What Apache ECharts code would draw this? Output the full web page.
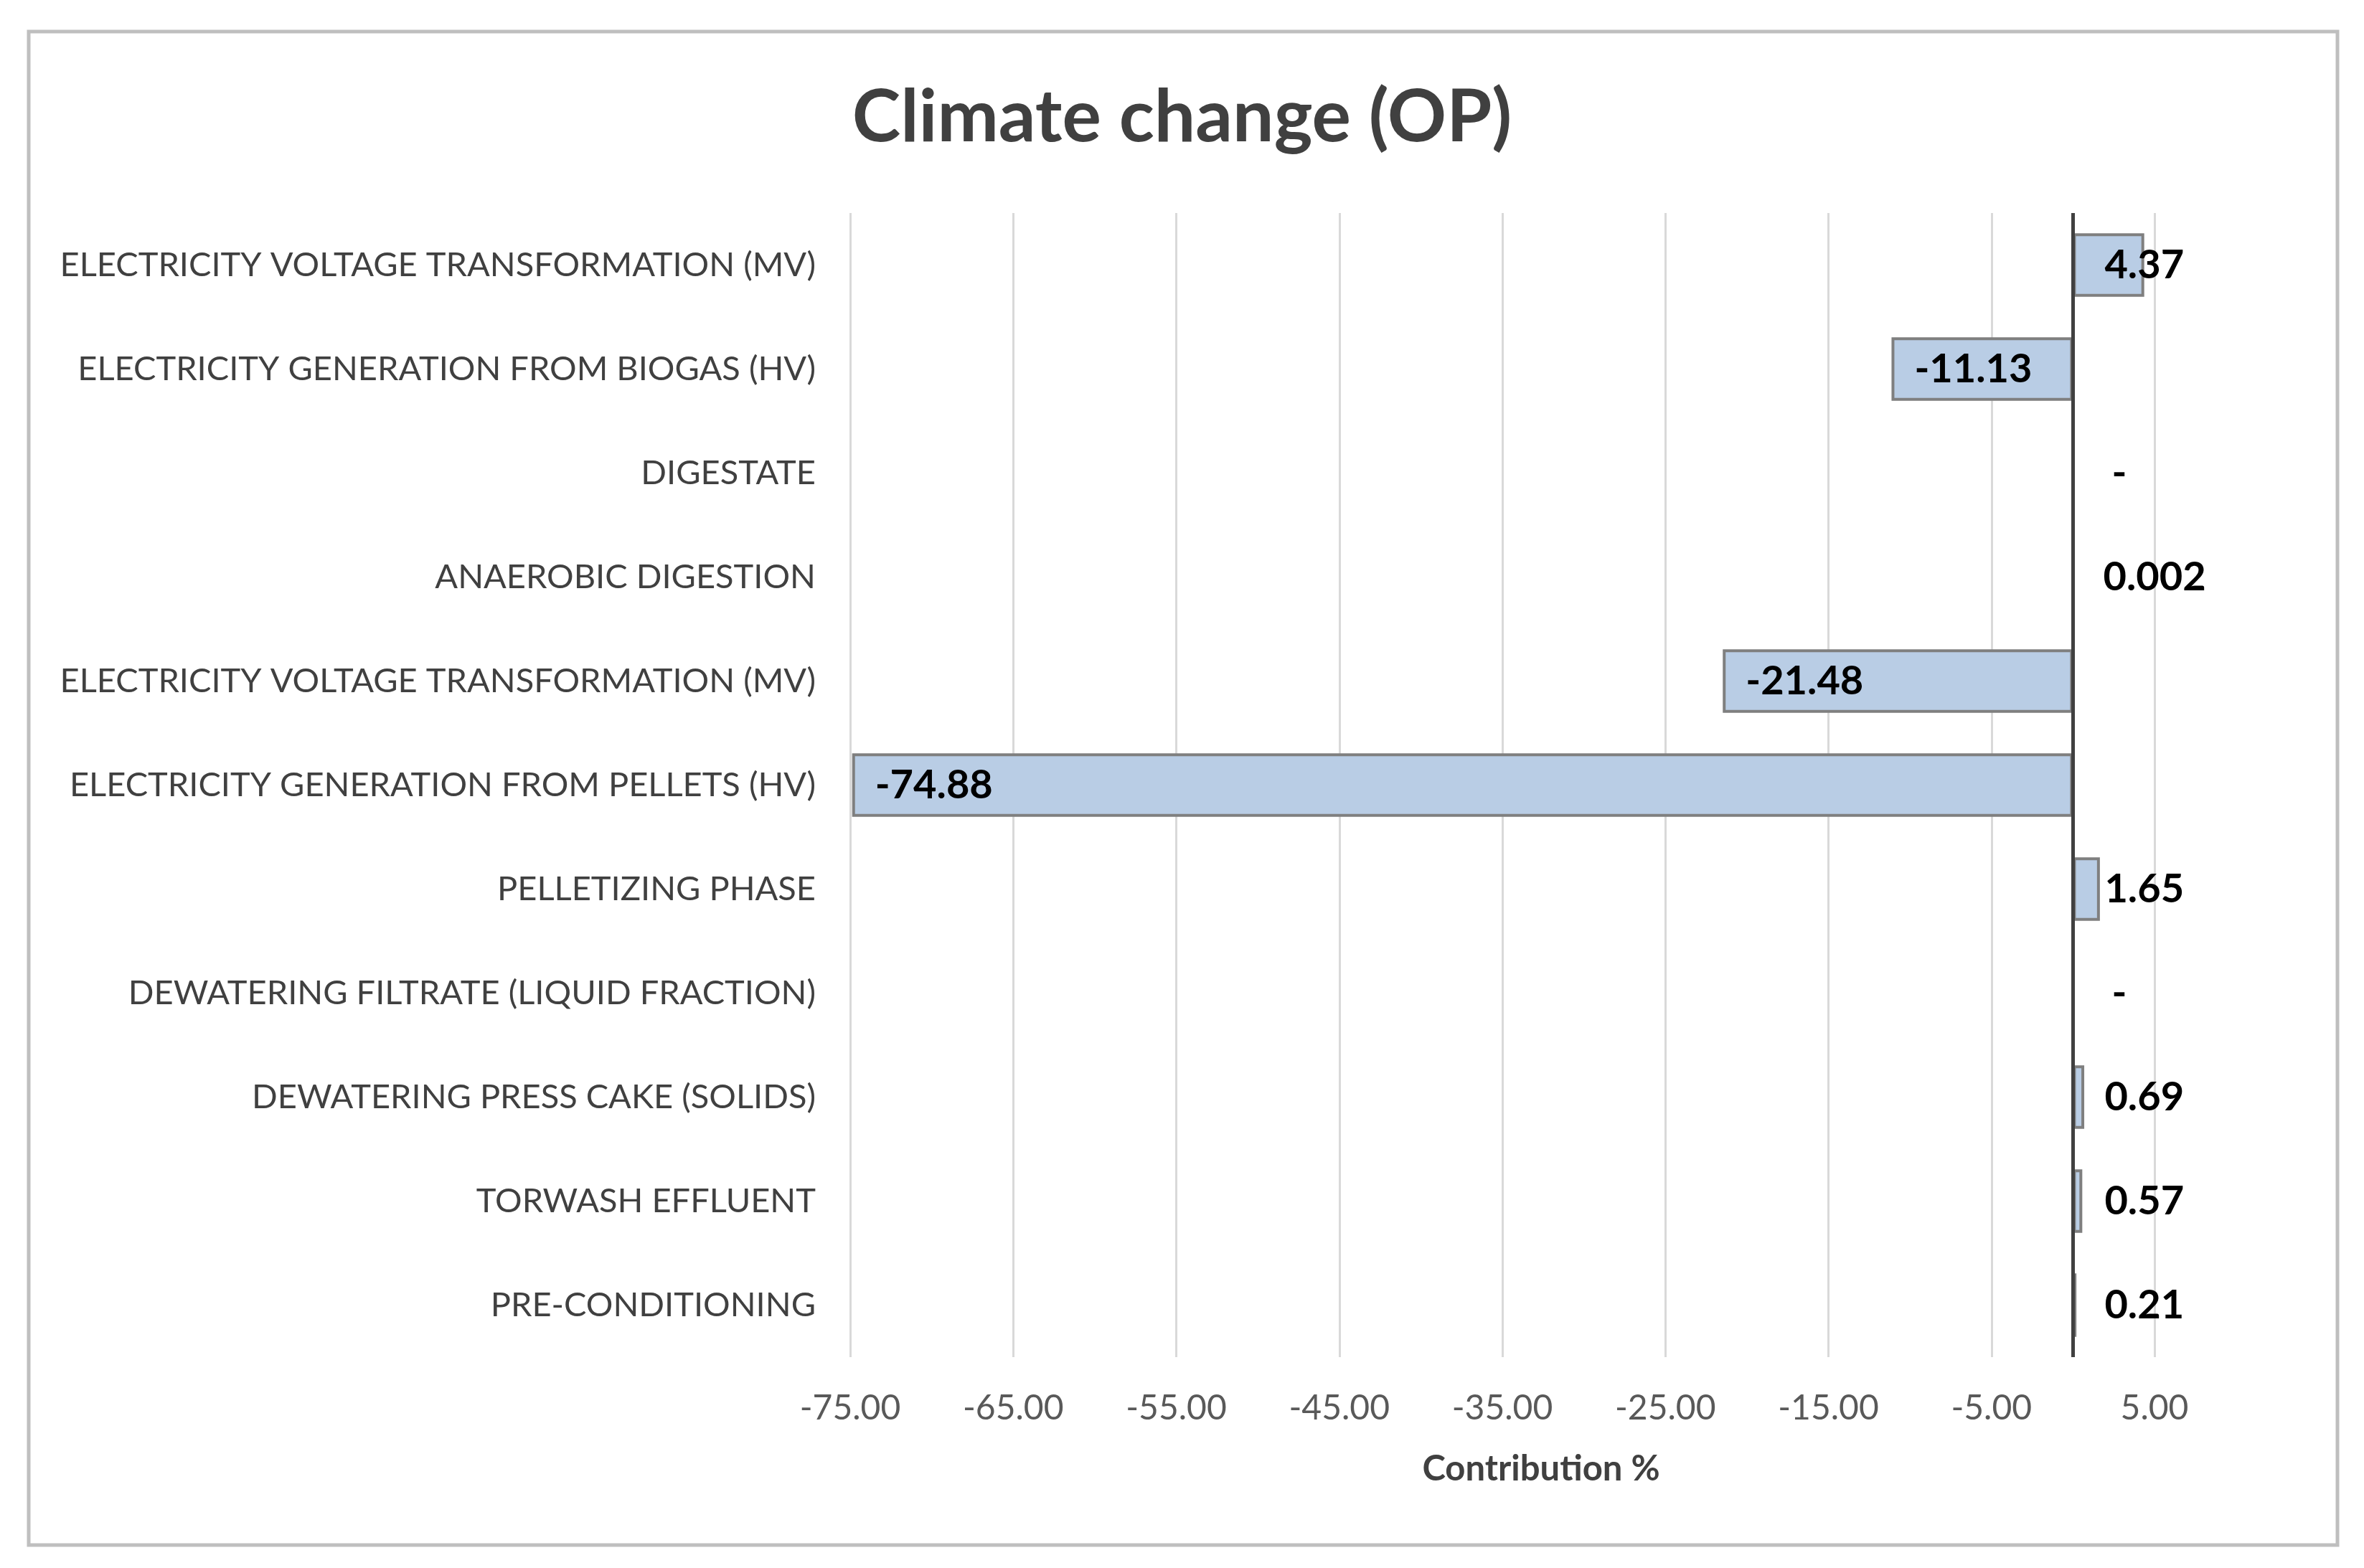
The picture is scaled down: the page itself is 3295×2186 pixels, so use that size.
<!DOCTYPE html>
<html>
<head>
<meta charset="utf-8">
<script src="https://cdn.jsdelivr.net/npm/echarts@6/dist/echarts.min.js"></script>
<style>
html,body{margin:0;padding:0;background:#fff;}
#chart{width:3295px;height:2186px;}
</style>
</head>
<body>
<div id="chart"></div>
<script>
const titleText = 'Climate change (OP)';
const categories = [
  'ELECTRICITY VOLTAGE TRANSFORMATION (MV)',
  'ELECTRICITY GENERATION FROM BIOGAS (HV)',
  'DIGESTATE',
  'ANAEROBIC DIGESTION',
  'ELECTRICITY VOLTAGE TRANSFORMATION (MV)',
  'ELECTRICITY GENERATION FROM PELLETS (HV)',
  'PELLETIZING PHASE',
  'DEWATERING FILTRATE (LIQUID FRACTION)',
  'DEWATERING PRESS CAKE (SOLIDS)',
  'TORWASH EFFLUENT',
  'PRE-CONDITIONING'
];
const values = [4.37, -11.13, 0, 0.002, -21.48, -74.88, 1.65, 0, 0.69, 0.57, 0.21];
const axisName = 'Contribution %';
const xMin = -75, xMax = 5, xStep = 10;

const chart = echarts.init(document.getElementById('chart'), null, {renderer: 'canvas'});
const option = {
  backgroundColor: '#ffffff',
  animation: false,
  title: {
    text: titleText,
    left: 'center',
    top: 108,
    textStyle: {fontFamily: 'Lato', fontWeight: 'bold', fontSize: 102, color: '#404040'}
  },
  graphic: [{
    type: 'rect',
    shape: {x: 40, y: 44, width: 3218, height: 2110},
    style: {fill: 'none', stroke: '#bfbfbf', lineWidth: 5},
    silent: true,
    z: -1
  }],
  grid: {left: 1185, right: 292, top: 297, bottom: 294, containLabel: false},
  xAxis: {
    type: 'value',
    min: xMin,
    max: xMax,
    interval: xStep,
    name: axisName,
    nameLocation: 'middle',
    nameGap: 132,
    nameTextStyle: {fontFamily: 'Lato', fontWeight: 'bold', fontSize: 49, color: '#404040', padding: [0, 0, 0, 108]},
    axisLine: {show: false},
    axisTick: {show: false},
    axisLabel: {
      fontFamily: 'Lato', fontSize: 48, color: '#595959', margin: 48,
      formatter: v => v.toFixed(2)
    },
    splitLine: {show: true, lineStyle: {color: '#d9d9d9', width: 3}}
  },
  yAxis: {
    type: 'category',
    data: categories,
    inverse: true,
    axisLine: {show: false},
    axisTick: {show: false},
    axisLabel: {fontFamily: 'Lato', fontSize: 47, color: '#404040', margin: 48},
    splitLine: {show: false}
  },
  series: [{
    type: 'bar',
    data: values.map(v => ({value: v, label: {distance: v < 0 ? 32 : (v === 0 ? 56 : 44)}})),
    barCategoryGap: '39%',
    itemStyle: {color: '#b9cde5', borderColor: '#7f7f7f', borderWidth: 4},
    label: {
      show: true,
      position: 'insideLeft',
      fontFamily: 'Lato', fontWeight: 'bold', fontSize: 56, color: '#000000',
      formatter: p => (p.value === 0 ? '-' : String(p.value))
    },
    markLine: {
      silent: true,
      symbol: 'none',
      label: {show: false},
      lineStyle: {color: '#404040', width: 5, type: 'solid'},
      data: [{xAxis: 0}]
    }
  }]
};
chart.setOption(option);
</script>
</body>
</html>
